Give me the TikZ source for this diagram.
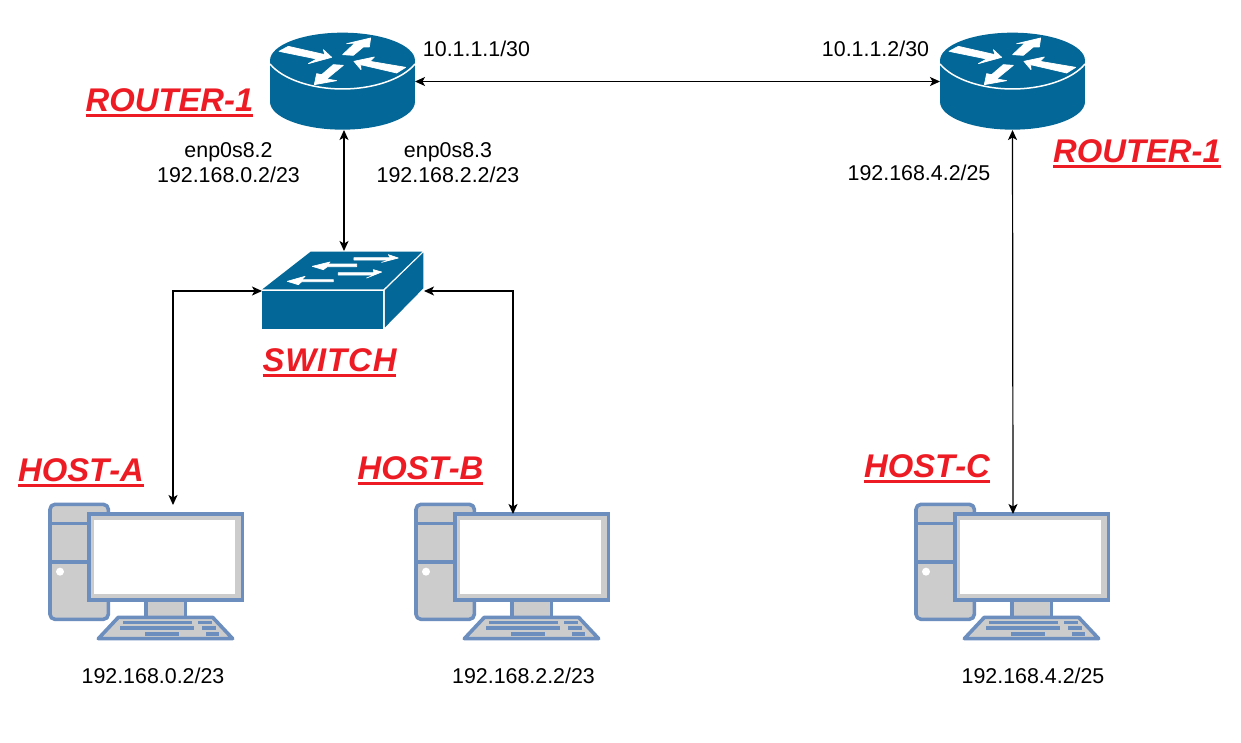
\documentclass[tikz,border=0pt]{standalone}
\usepackage{fontspec}
\setmainfont{Liberation Sans}
\newfontfamily\tagfont[Kerning=Off]{Liberation Sans}
\usetikzlibrary{arrows.meta}
\definecolor{ciscoblue}{HTML}{036897}
\definecolor{hostline}{HTML}{6C8EBF}
\definecolor{hostfill}{HTML}{CCCCCC}
\definecolor{labelred}{HTML}{ED1C24}
\newsavebox\tagbox
\newcommand{\ultag}[1]{\sbox\tagbox{#1}\usebox\tagbox\llap{\rule[-6pt]{\wd\tagbox}{2.6pt}}}
\tikzset{
  x=1pt,y=-1pt,
  link/.style={draw=black,line width=1.2pt,{Stealth[length=10pt,width=9pt,inset=2.5pt]}-{Stealth[length=10pt,width=9pt,inset=2.5pt]}},
  plain/.style={font=\fontsize{21.4}{25}\selectfont,align=center,inner sep=0pt,text=black},
  tag/.style={font=\tagfont\fontsize{32.8}{36}\selectfont\bfseries\itshape,text=labelred,inner sep=0pt,anchor=base},
  box/.style={inner sep=0pt,minimum width=#1,outer sep=0pt},
  glyph/.style={fill=white,draw=white,line width=0.7pt,line join=round},
  pics/routericon/.style={code={
    \begin{scope}[x=0.3333pt,y=-0.3333pt]
      \fill[ciscoblue] (60,122) rectangle (495,245);
      \fill[ciscoblue] (277.5,245) ellipse[x radius=217.5,y radius=84];
      \fill[ciscoblue] (277.5,122) ellipse[x radius=217.5,y radius=84];
      \draw[white,line width=1.5pt] (60,132) .. controls (100,180) and (190,207) .. (277.5,207) .. controls (365,207) and (455,180) .. (495,132);
      \path[glyph] (87,94) -- (115,79) -- (225,104) -- (220,89) -- (245,112) -- (175,131) -- (200,117) -- cycle;
      \path[glyph] (362,54) -- (290,71) -- (315,69) -- (278,104) -- (310,106) -- (340,81) -- (358,81) -- cycle;
      \path[glyph] (312,124) -- (333,149) -- (332,134) -- (440,159) -- (467,142) -- (360,124) -- (373,111) -- cycle;
      \path[glyph] (193,194) -- (260,182) -- (230,177) -- (280,136) -- (250,134) -- (215,164) -- (200,161) -- cycle;
    \end{scope}}},
  pics/switchicon/.style={code={
    \begin{scope}[x=0.3333pt,y=-0.3333pt]
      \fill[ciscoblue] (37,148) -- (182,35) -- (517,35) -- (400,148) -- cycle;
      \fill[ciscoblue] (37,153) rectangle (400,268);
      \fill[ciscoblue] (405,150) -- (520,38) -- (520,145) -- (405,262) -- cycle;
      \path[glyph] (445,54) -- (415,44) -- (422,53) -- (312,53) -- (312,60) -- (420,60) -- (395,67) -- cycle;
      \path[glyph] (187,79) -- (240,66) -- (232,72) -- (320,72) -- (320,80) -- (232,80) -- (220,89) -- cycle;
      \path[glyph] (395,96) -- (370,89) -- (372,98) -- (265,98) -- (265,105) -- (372,105) -- (350,114) -- cycle;
      \path[glyph] (112,124) -- (165,109) -- (155,119) -- (250,119) -- (250,125) -- (155,125) -- (145,134) -- cycle;
    \end{scope}}},
  pics/hosticon/.style={code={
    \begin{scope}[x=0.3333pt,y=-0.3333pt,line width=3.6pt,draw=hostline,fill=hostfill,line join=round]
      \draw[fill=hostfill,rounded corners=5pt] (30,43) rectangle (205,388);
      \draw (30,101) -- (145,101);
      \draw (30,216) -- (145,216);
      \fill[white] (60,245) circle[radius=12];
      \draw[fill=hostfill] (318,330) rectangle (436,382);
      \draw[fill=hostfill,line join=miter] (147,72) rectangle (608,330);
      \fill[white] (163,90) rectangle (585,313);
      \draw[fill=hostfill] (235,382) -- (518,382) -- (578,446) -- (175,446) -- cycle;
      \fill[hostline] (250,392) rectangle (457,403);
      \fill[hostline] (475,392) rectangle (516,403);
      \fill[hostline] (239,409) rectangle (463,420);
      \fill[hostline] (486,409) rectangle (527,420);
      \fill[hostline] (314,427) rectangle (417,438);
      \fill[hostline] (498,427) rectangle (538,438);
    \end{scope}}}
}
\begin{document}
\begin{tikzpicture}
\useasboundingbox (0,0) rectangle (1241,742);
\fill[white] (0,0) rectangle (1241,742);
% icons
\pic at (250,20) {routericon};
\pic at (920,20) {routericon};
\pic at (250,240) {switchicon};
\pic at (40,490) {hosticon};
\pic at (406,490) {hosticon};
\pic at (906,490) {hosticon};
% anchors for connectors
\node[box=145,minimum height=97] (r1) at (342.5,81.5) {};
\node[box=145,minimum height=97] (r2) at (1012.5,81.5) {};
\node[box=162,minimum height=80] (sw) at (343,291) {};
\coordinate (ha) at (173,505);
\coordinate (hb) at (513,514);
\coordinate (hc) at (1013,514);
% connectors
\draw[link] (r1.east) -- (r2.west);
\draw[link] (r1.south) ++(1.5,0) coordinate (r1b) (r1b) -- (r1b |- sw.north);
\draw[link] (sw.west) -| (ha);
\draw[link] (sw.east) -| (hb);
\draw[link] (r2.south) -- (hc);
% plain labels
\node[plain] (t1) at (476.5,49) {10.1.1.1/30};
\node[plain] (t2) at (875.5,49) {10.1.1.2/30};
\node[plain] (t3) at (228.5,162.5) {enp0s8.2\\192.168.0.2/23};
\node[plain] (t4) at (448,162.5) {enp0s8.3\\192.168.2.2/23};
\node[plain] (t5) at (919,172.5) {192.168.4.2/25};
\node[plain] (t6) at (153,675.5) {192.168.0.2/23};
\node[plain] (t7) at (523.5,675.5) {192.168.2.2/23};
\node[plain] (t8) at (1033,675.5) {192.168.4.2/25};
% name labels
\node[tag] (n1) at (169.5,111) {\ultag{ROUTER-1}};
\node[tag] (n2) at (1137,162) {\ultag{ROUTER-1}};
\node[tag,font=\tagfont\addfontfeature{LetterSpace=2.8}\fontsize{32.8}{36}\selectfont\bfseries\itshape] (n3) at (329.5,371) {\ultag{SWITCH}};
\node[tag] (n4) at (81,481) {\ultag{HOST-A}};
\node[tag] (n5) at (420.5,479) {\ultag{HOST-B}};
\node[tag] (n6) at (927,477) {\ultag{HOST-C}};
\end{tikzpicture}
\end{document}
